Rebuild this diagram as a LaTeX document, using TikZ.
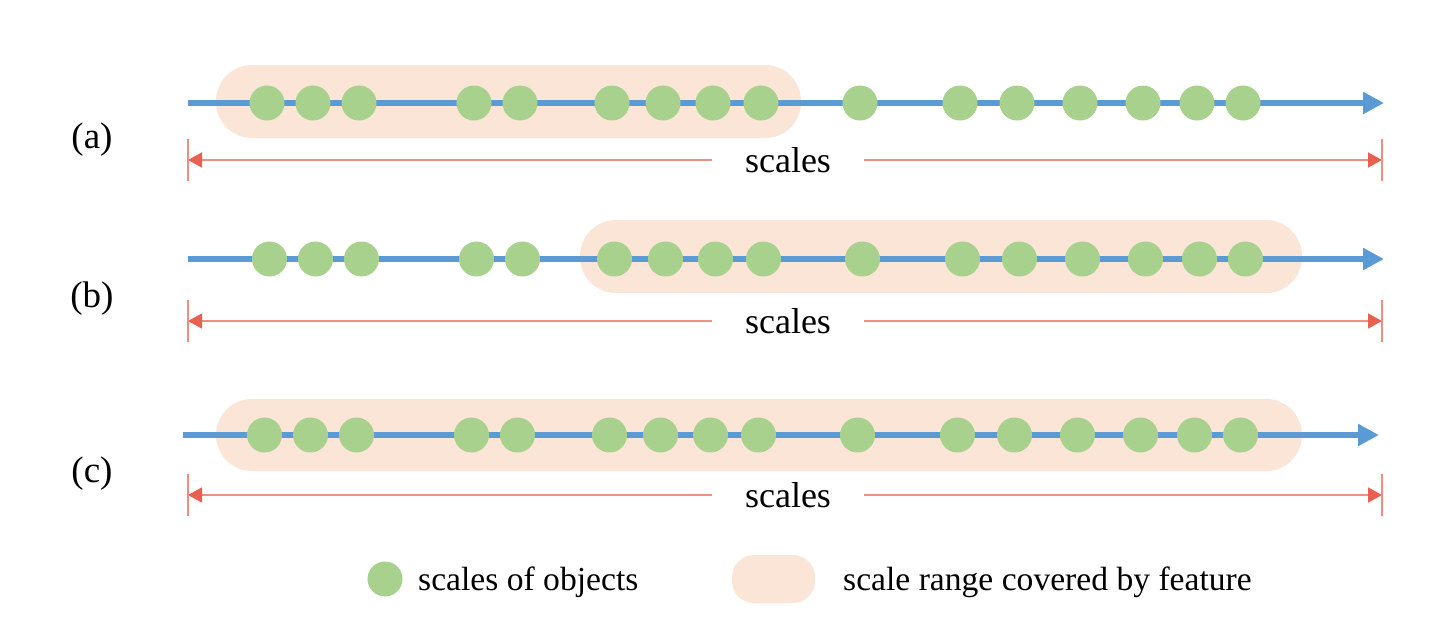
\documentclass[tikz,border=0pt]{standalone}
\usepackage{fontspec}
\setmainfont{Liberation Serif}
\usetikzlibrary{arrows.meta, positioning}
\definecolor{scBlue}{HTML}{5B9BD5}
\definecolor{scGreen}{HTML}{A9D18E}
\definecolor{scPeach}{HTML}{FBE5D6}
\definecolor{scRed}{HTML}{E8604F}
\definecolor{scPink}{HTML}{F08E84}
\tikzset{
  % one unit is one pixel of the 1449x630 frame, y grows downwards
  axisline/.style = {scBlue, line width=6pt, -{Triangle[length=21pt, width=21pt]}},
  dimline/.style  = {scPink, line width=1.5pt, -{Triangle[length=14pt, width=15pt, color=scRed]}},
  dimtick/.style  = {scPink, line width=1.5pt},
  scaledot/.style = {circle, fill=scGreen, inner sep=0pt, minimum size=35pt},
  rangebox/.style = {fill=scPeach, rounded corners=36pt},
  lbl/.style      = {font=\fontsize{37}{40}\selectfont},
  dimlbl/.style   = {font=\fontsize{36}{40}\selectfont, inner xsep=33pt, inner ysep=0pt},
  legtxt/.style   = {font=\fontsize{33.6}{38}\selectfont, anchor=base west, inner sep=0pt},
}

\begin{document}
\begin{tikzpicture}[x=1pt,y=-1pt]
  \useasboundingbox (0,0) rectangle (1449,630);
  % scale ranges covered by the feature
  \fill[rangebox] (216,65) rectangle (801,138);
  \fill[rangebox] (580,220) rectangle (1302,293);
  \fill[rangebox] (216,399) rectangle (1302,471);
  % rows: name / axis y / dot shift / axis start / axis end / dim y / label y
  \foreach \r/\ay/\sh/\xa/\xb/\dy/\ly in {a/103/0/188/1384/160/140,
      b/259/2.5/188/1384/321/299, c/435/-2.5/183/1379/495/474}{
    \node[lbl] (lbl\r) at (92,\ly) {(\r)};
    \coordinate (\r0) at (\xa,\ay);
    \coordinate (\r1) at (\xb,\ay);
    \draw[axisline] (\r0) -- (\r1);
    \foreach \x [count=\i] in {267,313,359,474,520,612,663,713,761,860,
        960,1017,1080,1143,1197,1243}
      \node[scaledot] (\r-\i) at (\x+\sh,\ay) {};
    % dimension line with its label
    \coordinate (\r L) at (188,\dy);
    \coordinate (\r R) at (1382,\dy);
    \node[dimlbl] (\r S) at (788,\dy) {scales};
    \draw[dimline] (\r S.west) -- (\r L);
    \draw[dimline] (\r S.east) -- (\r R);
    \draw[dimtick] ([yshift=21pt]\r L) -- ([yshift=-21pt]\r L);
    \draw[dimtick] ([yshift=21pt]\r R) -- ([yshift=-21pt]\r R);
  }
  % legend
  \node[scaledot] (legdot) at (385,579) {};
  \node[legtxt] (legdottxt) at (418,590) {scales of objects};
  \fill[scPeach, rounded corners=22pt] (732,555) rectangle (815,603);
  \node[legtxt] (legboxtxt) at (843,590) {scale range covered by feature};
\end{tikzpicture}
\end{document}
